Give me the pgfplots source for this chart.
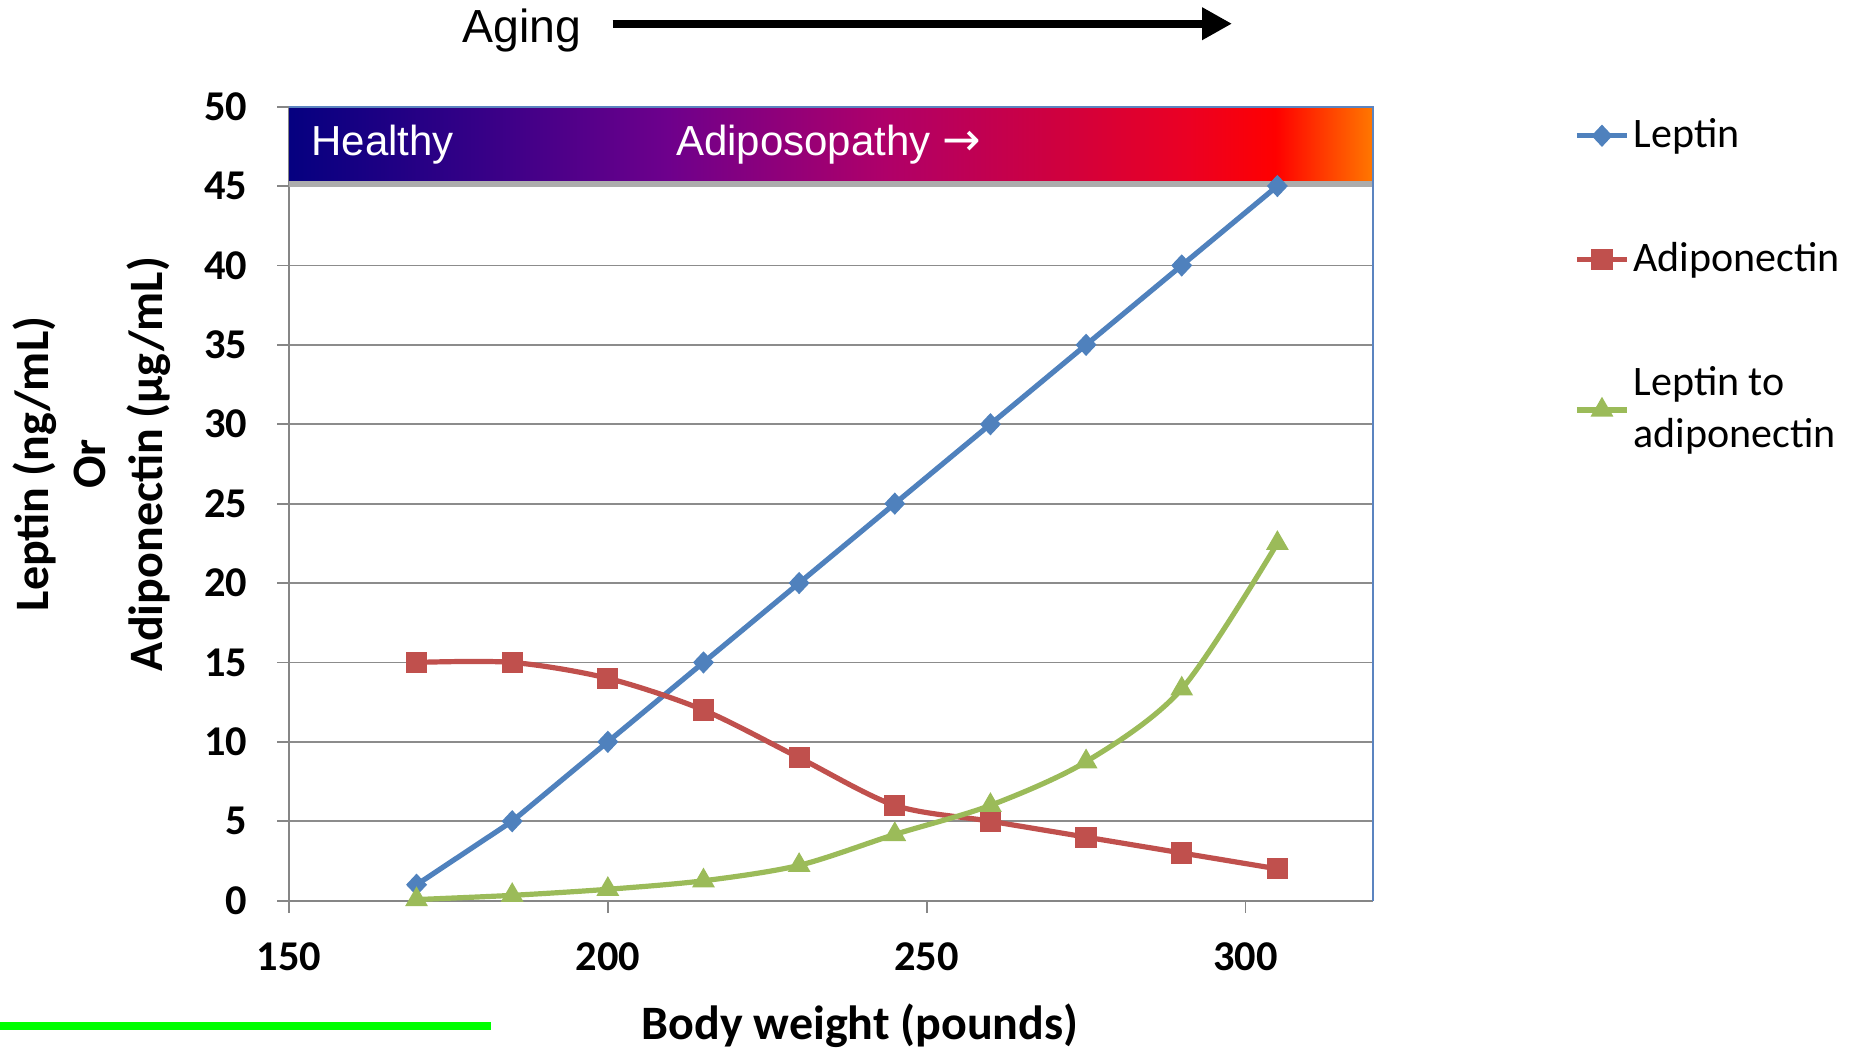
\documentclass[border=0pt]{standalone}
\usepackage{pgfplots}
\pgfplotsset{compat=1.18}
\usepackage{fontspec}
\setmainfont{Carlito}
\newfontfamily\arialf{Liberation Sans}
\newfontfamily\dejavu{DejaVu Sans}
\usetikzlibrary{arrows.meta}

\definecolor{lepblue}{HTML}{4F81BD}
\definecolor{adred}{HTML}{C0504D}
\definecolor{ratgreen}{HTML}{9BBB59}
\definecolor{axgray}{HTML}{868686}
\definecolor{gridgray}{HTML}{8C8C8C}
\definecolor{rightblue}{HTML}{5B84C0}
\definecolor{bn0}{RGB}{5,0,128}
\definecolor{bn1}{RGB}{55,0,135}
\definecolor{bn2}{RGB}{110,0,140}
\definecolor{bn3}{RGB}{175,0,105}
\definecolor{bn4}{RGB}{205,0,65}
\definecolor{bn5}{RGB}{235,0,35}
\definecolor{bn6}{RGB}{255,0,0}
\definecolor{bn7}{RGB}{255,60,0}
\definecolor{bn8}{RGB}{255,120,0}
\pgfdeclarehorizontalshading{banner}{100bp}{color(0bp)=(bn0); color(25bp)=(bn0); color(34bp)=(bn1); color(42.5bp)=(bn2); color(52.5bp)=(bn3); color(60bp)=(bn4); color(66.5bp)=(bn5); color(70.5bp)=(bn6); color(72.75bp)=(bn7); color(75bp)=(bn8); color(100bp)=(bn8)}

\begin{document}
\begin{tikzpicture}
\path[use as bounding box] (0,0) rectangle (464.5pt,-262.5pt);
\begin{scope}[x=0.25pt,y=-0.25pt]
  \node[anchor=west, inner sep=0pt, font=\arialf\fontsize{11.6}{13}\selectfont] at (462,30) {Aging};
  \draw[line width=2.1pt, -{Triangle[length=7.5pt,width=7.7pt]}] (612.6,23.7) -- (1232,23.7);
  \fill[green] (0,1021.8) rectangle (490.6,1030.2);
  \node[inner sep=0pt, font=\bfseries\fontsize{12}{14}\selectfont] at (860,1026) {Body weight (pounds)};
  \node[inner sep=0pt, rotate=90, align=center, font=\bfseries\fontsize{12}{14.25}\selectfont] at (92,464) {Leptin (ng/mL)\\Or\\Adiponectin (µg/mL)};
\end{scope}
\begin{axis}[
  at={(72.25pt,-225.15pt)}, anchor=south west,
  scale only axis, width=271pt, height=198.5pt,
  xmin=150, xmax=320, ymin=0, ymax=50,
  xtick={150,200,250,300}, ytick={0,5,...,50},
  axis x line*=bottom, axis y line*=left,
  axis line style={draw=axgray, line width=0.45pt},
  tick align=outside, major tick length=3pt,
  tick style={draw=axgray, line width=0.45pt},
  ymajorgrids, grid style={draw=gridgray, line width=0.45pt},
  ticklabel style={font=\bfseries\fontsize{10.6}{12}\selectfont, inner sep=0pt},
  /pgf/number format/assume math mode=true,
  xticklabel style={anchor=north, yshift=-7.3pt},
  yticklabel style={anchor=east, xshift=-7.3pt},
  clip=false,
  legend cell align=left,
  legend style={draw=none, fill=none, inner sep=0pt, at={(axis description cs:1.1850,0.9864)}, anchor=north west,
    font=\fontsize{10.5}{13.2}\selectfont, row sep=22.2pt, column sep=1pt, nodes={inner sep=0pt}, cells={align=left}},
  legend image code/.code={\draw[mark repeat=2,mark phase=2,#1] plot coordinates {(0pt,0pt) (6.25pt,0pt) (12.5pt,0pt)};},
]
\addplot[color=lepblue, line width=1.3pt, mark=diamond*, mark size=2.5pt, mark options={solid, fill=lepblue, line width=0.4pt, xscale=1.25}] coordinates {
 (170,1) (185,5) (200,10) (215,15) (230,20) (245,25) (260,30) (275,35) (290,40) (305,45)};
\addlegendentry{Leptin}
\addplot[color=adred, line width=1.3pt, smooth, mark=square*, mark size=2.45pt, mark options={solid, fill=adred, line width=0.4pt}] coordinates {
 (170,15) (185,15) (200,14) (215,12) (230,9) (245,6) (260,5) (275,4) (290,3) (305,2)};
\addlegendentry{Adiponectin}
\addplot[color=ratgreen, line width=1.3pt, smooth, mark=triangle*, mark size=2.9pt, mark options={solid, fill=ratgreen, line width=0.4pt}] coordinates {
 (170,0.067) (185,0.333) (200,0.714) (215,1.25) (230,2.222) (245,4.167) (260,6) (275,8.75) (290,13.333) (305,22.5)};
\addlegendentry{Leptin to\\adiponectin}
\fill[gray!65] (axis cs:150,44.95) rectangle (axis cs:320,45.35);
\shade[shading=banner] (axis cs:150,45.35) rectangle (axis cs:320,50);
\draw[rightblue, line width=0.45pt] (axis cs:150,50) -- (axis cs:320,50) -- (axis cs:320,0);
\node[anchor=west, inner sep=0pt, text=white, font=\arialf\fontsize{10.5}{12}\selectfont] at (axis cs:153.4,47.6) {Healthy};
\node[anchor=west, inner sep=0pt, text=white, font=\arialf\fontsize{10.5}{12}\selectfont] at (axis cs:210.6,47.6) {Adiposopathy {\dejavu\fontsize{11.5}{12}\selectfont →}};
\end{axis}
\end{tikzpicture}
\end{document}
